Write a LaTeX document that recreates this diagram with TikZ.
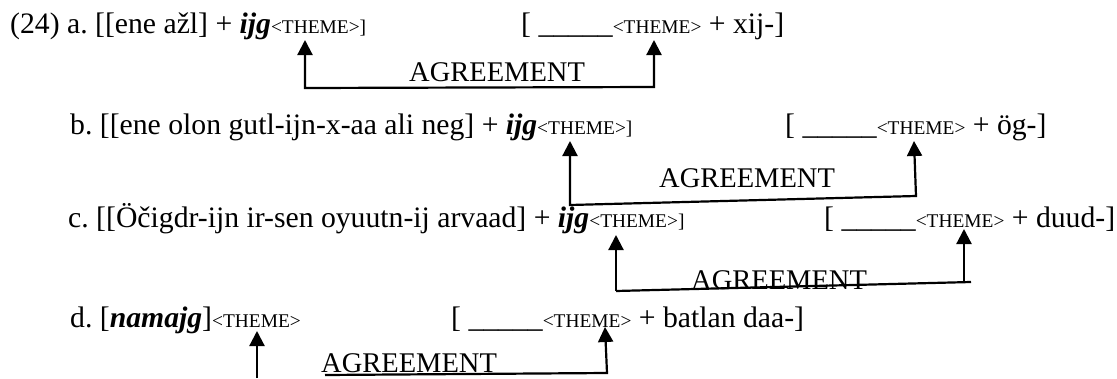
\documentclass[tikz,border=0pt]{standalone}
\usepackage{fontspec}
\setmainfont{Liberation Serif}
\usetikzlibrary{arrows.meta}
\frenchspacing
\newcommand{\smtxt}[1]{{\fontsize{19.4}{22}\selectfont #1}}
\newcommand{\themetag}{\smtxt{<THEME>}}
\newcommand{\bitxt}[1]{\textbf{\textit{#1}}}
\begin{document}
\begin{tikzpicture}[x=1pt,y=-1pt,
  txt/.style={anchor=base west, inner sep=0pt, font=\fontsize{29.7}{36}\selectfont},
  agr/.style={anchor=base west, inner sep=0pt, font=\fontsize{28.5}{34}\selectfont},
  link/.style={line width=2.2pt},
  tipped/.style={link, {Triangle[width=15pt,length=15pt]}-{Triangle[width=15pt,length=15pt]}},
  onetip/.style={link, -{Triangle[width=15pt,length=15pt]}}]
\useasboundingbox (0,0) rectangle (1117,378);

% (24a)
\node[txt] (aL) at (10,33) {(24) a. [[ene ažl] + \bitxt{ijg}\themetag\smtxt{]}};
\node[txt] (aR) at (521,33) {[ \_\_\_\_\_\themetag{} + xij-]};
\node[agr] (aA) at (409,81) {AGREEMENT};
\coordinate (a-t1) at (305,40);
\coordinate (a-c1) at (305,88);
\coordinate (a-c2) at (654,87);
\coordinate (a-t2) at (654,40);
\draw[tipped] (a-t1) -- (a-c1) -- (a-c2) -- (a-t2);

% (24b)
\node[txt] (bL) at (70,134) {b. [[ene olon gutl-ijn-x-aa ali neg] + \bitxt{ijg}\themetag\smtxt{]}};
\node[txt] (bR) at (785,134) {[ \_\_\_\_\_\themetag{} + ög-]};
\node[agr] (bA) at (659,187) {AGREEMENT};
\coordinate (b-t1) at (570,141);
\coordinate (b-c1) at (570,205);
\coordinate (b-c2) at (916,196);
\coordinate (b-t2) at (914,141);
\draw[tipped] (b-t1) -- (b-c1) -- (b-c2) -- (b-t2);

% (24c)
\node[txt] (cL) at (68,227) {c. [[Öčigdr-ijn ir-sen oyuutn-ij arvaad] + \bitxt{ijg}\themetag\smtxt{]}};
\node[txt] (cR) at (824,227) {[ \_\_\_\_\_\themetag{} + duud-]};
\node[agr] (cA) at (691,289) {AGREEMENT};
\coordinate (c-t1) at (616,235);
\coordinate (c-c1) at (616,291);
\coordinate (c-c2) at (971,282);
\coordinate (c-c3) at (964,282);
\coordinate (c-t2) at (964,229);
\draw[onetip] (c-c1) -- (c-t1);
\draw[link] (c-c1) -- (c-c2);
\draw[onetip] (c-c3) -- (c-t2);

% (24d)
\node[txt] (dL) at (70,327) {d. [\bitxt{namajg}]\themetag};
\node[txt] (dR) at (451,327) {[ \_\_\_\_\_\themetag{} + batlan daa-]};
\node[agr] (dA) at (321,372) {AGREEMENT};
\coordinate (d-b1) at (257,378);
\coordinate (d-t1) at (257,331);
\coordinate (d-c1) at (325,375);
\coordinate (d-c2) at (607,373);
\coordinate (d-t2) at (605,327);
\draw[onetip] (d-b1) -- (d-t1);
\draw[onetip] (d-c1) -- (d-c2) -- (d-t2);
\end{tikzpicture}
\end{document}
